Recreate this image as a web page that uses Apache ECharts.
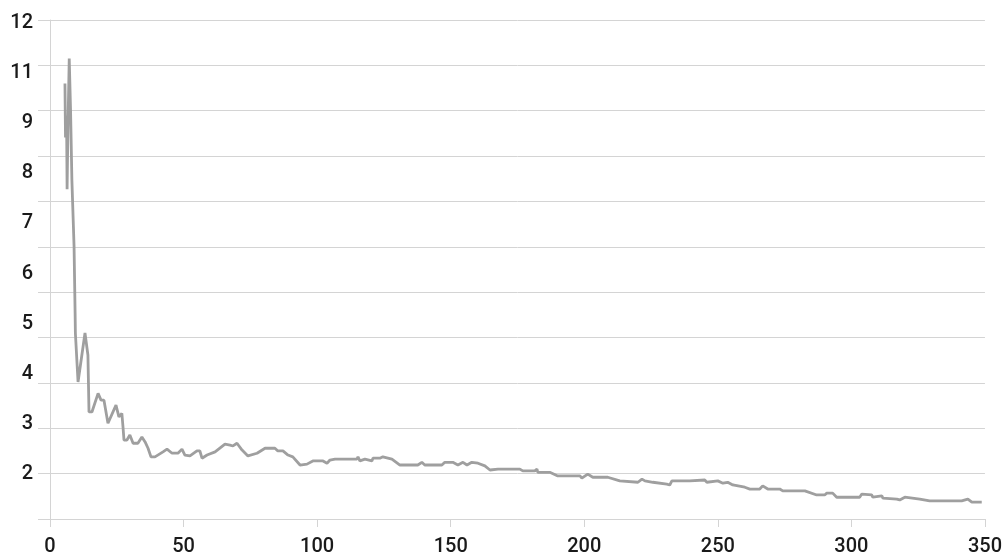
<!DOCTYPE html>
<html>
<head>
<meta charset="utf-8">
<script src="https://cdn.jsdelivr.net/npm/echarts@6/dist/echarts.min.js"></script>
<style>html,body{margin:0;padding:0;background:#fff}#c{width:1005px;height:559px}</style>
</head>
<body>
<div id="c"></div>
<script>
var xValues = [5.6,5.8,6.2,6.4,6.7,7.2,7.7,8.2,9.0,9.4,9.5,10.5,13.1,14.2,14.6,15.7,18.0,19.1,20.2,21.7,24.7,25.8,26.9,27.3,27.7,28.8,29.9,31.1,32.9,34.4,35.6,36.7,37.8,39.3,42.3,43.8,45.7,47.9,49.4,50.5,52.4,55.0,56.1,56.9,58.8,61.8,65.5,67.4,68.5,70.0,71.9,74.1,77.5,80.5,84.2,85.3,87.2,89.1,90.9,93.6,96.2,98.4,102.2,103.7,104.8,106.7,114.9,115.3,116.0,117.9,120.5,120.9,123.5,124.6,128.0,131.0,137.7,139.2,140.3,146.7,147.8,150.8,152.7,154.6,156.1,157.9,160.2,162.8,164.7,167.7,168.4,175.9,177.0,181.5,182.3,182.6,187.1,190.1,198.4,199.1,201.3,203.2,208.8,213.3,220.1,221.6,222.7,225.7,230.9,232.0,232.8,239.5,245.1,245.9,250.0,251.9,253.7,255.6,260.1,262.0,265.7,266.8,268.7,273.2,274.3,282.6,287.0,290.0,290.8,293.0,294.5,303.1,303.9,307.6,308.0,311.4,311.8,317.0,318.1,320.0,320.7,325.6,329.3,341.3,341.7,343.6,345.1,348.8];
var yValues = [10.60,9.41,9.89,8.27,9.56,11.15,10.00,8.46,7.03,5.54,5.10,4.02,5.10,4.61,3.36,3.36,3.77,3.62,3.62,3.11,3.51,3.25,3.33,3.05,2.74,2.74,2.85,2.67,2.67,2.81,2.70,2.56,2.37,2.37,2.48,2.54,2.45,2.45,2.54,2.41,2.39,2.50,2.50,2.34,2.41,2.48,2.65,2.63,2.61,2.67,2.52,2.39,2.45,2.56,2.56,2.50,2.50,2.41,2.37,2.19,2.21,2.28,2.28,2.23,2.30,2.32,2.32,2.37,2.28,2.32,2.28,2.34,2.34,2.37,2.32,2.19,2.19,2.25,2.19,2.19,2.25,2.25,2.19,2.25,2.19,2.25,2.23,2.17,2.08,2.10,2.06,2.10,2.06,2.06,2.10,2.03,2.03,1.95,1.95,1.90,1.99,1.92,1.92,1.84,1.81,1.88,1.84,1.81,1.77,1.75,1.84,1.84,1.86,1.81,1.84,1.79,1.81,1.75,1.70,1.66,1.66,1.73,1.66,1.66,1.62,1.62,1.53,1.53,1.57,1.57,1.48,1.48,1.55,1.53,1.48,1.51,1.46,1.44,1.42,1.48,1.44,1.44,1.40,1.40,1.37,1.44,1.37,1.37];
var yTickLabels = ['2','3','4','5','6','7','8','9','11','12'];
var xMin = 0, xMax = 350, xStep = 50;
var yMin = 1, yMax = 12, yStep = 1;

var pts = xValues.map(function (x, i) { return [x, yValues[i]]; });
var font = 'Roboto, "Noto Sans", sans-serif';
var chart = echarts.init(document.getElementById('c'), null, {renderer: 'canvas'});
chart.setOption({
  animation: false,
  backgroundColor: '#ffffff',
  grid: [
    {left: 50, right: 20, top: 20, bottom: 40, containLabel: false},
    {left: 50, right: 20, top: 23, bottom: 85, containLabel: false}
  ],
  xAxis: [
    {type: 'value', gridIndex: 0, min: xMin, max: xMax, interval: xStep,
     axisLine: {show: true, lineStyle: {color: '#d4d4d4', width: 1}},
     axisTick: {show: true, length: 8, lineStyle: {color: '#d4d4d4'}},
     splitLine: {show: false},
     axisLabel: {color: '#1a1a1a', fontSize: 20, fontWeight: 500, fontFamily: font, margin: 18}},
    {type: 'value', gridIndex: 1, min: 0, max: 1, show: false}
  ],
  yAxis: [
    {type: 'value', gridIndex: 0, min: yMin, max: yMax, interval: yStep,
     axisLine: {show: true, lineStyle: {color: '#d4d4d4', width: 1}},
     axisTick: {show: true, length: 12, lineStyle: {color: '#d4d4d4'}},
     splitLine: {show: true, lineStyle: {color: '#d4d4d4', width: 1}},
     axisLabel: {show: false}},
    {type: 'value', gridIndex: 1, min: 0, max: yTickLabels.length - 1, interval: 1,
     axisLine: {show: false}, axisTick: {show: false}, splitLine: {show: false},
     axisLabel: {color: '#1a1a1a', fontSize: 20, fontWeight: 500, fontFamily: font, margin: 17,
       formatter: function (v) { return yTickLabels[Math.round(v)] || ''; }}}
  ],
  series: [{
    type: 'line', xAxisIndex: 0, yAxisIndex: 0, data: pts,
    showSymbol: false, symbol: 'none',
    lineStyle: {color: '#9f9f9f', width: 2.8},
    itemStyle: {color: '#9f9f9f'}
  }]
});
</script>
</body>
</html>
